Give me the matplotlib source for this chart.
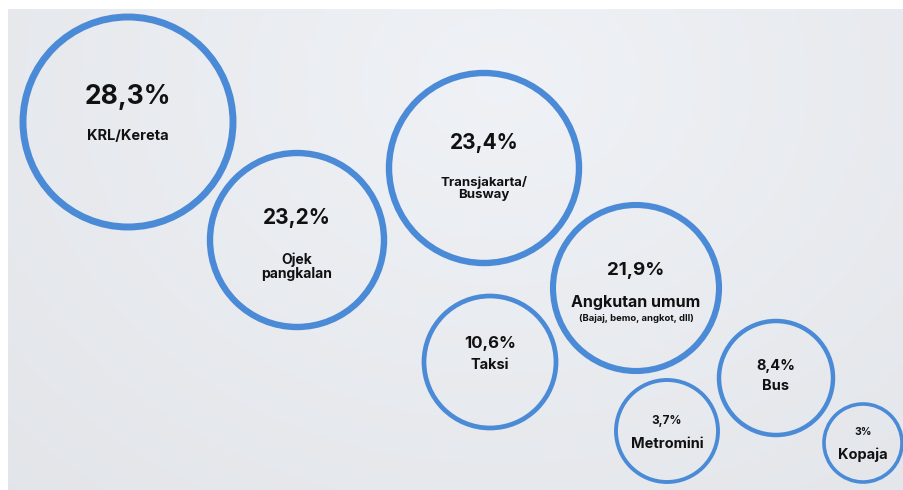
import matplotlib.pyplot as plt
import numpy as np
from matplotlib.patches import Circle

plt.rcParams['font.family'] = ['Inter', 'DejaVu Sans']

# Data
modes = ["KRL/Kereta", "Ojek\npangkalan", "Transjakarta/\nBusway", "Angkutan umum",
         "Taksi", "Bus", "Metromini", "Kopaja"]
shares = [28.3, 23.2, 23.4, 21.9, 10.6, 8.4, 3.7, 3.0]
notes = ["", "", "", "(Bajaj, bemo, angkot, dll)", "", "", "", ""]

# Layout (pixel coordinates of the bubbles)
cx = [128, 297, 484, 636, 490, 776, 667, 863]
cy = [122, 240, 168, 288, 362, 378, 431, 443]
rad = [105, 87, 95, 83, 66, 57, 51, 39]
lw = [5.0, 4.6, 4.6, 4.4, 3.4, 3.2, 2.8, 2.6]
pct_size = [19, 15, 15, 13.5, 12, 10.5, 8.5, 7.5]
pct_dy = [-25, -22, -25, -18, -19, -12, -10, -11]
lab_dy = [14, 27, 20, 14, 3, 8, 13, 12]
lab_size = [10.5, 10, 9.5, 11.5, 10.5, 10.5, 10.5, 10.5]

W, H = 904, 490
fig = plt.figure(figsize=(W / 100, H / 100), dpi=100)
fig.patch.set_facecolor('white')
ax = fig.add_axes([0, 0, 1, 1])
ax.set_xlim(0, W)
ax.set_ylim(H, 0)
ax.set_aspect('equal')
ax.axis('off')

# soft grey-blue background
gx, gy = np.meshgrid(np.linspace(0, 1, 300), np.linspace(0, 1, 160))
d = np.sqrt(((gx - 0.55) / 0.8) ** 2 + ((gy - 0.15) / 1.2) ** 2)
shade = 0.955 - 0.05 * np.clip(d, 0, 1)
bg = np.dstack([shade - 0.018, shade - 0.008, shade + 0.008])
ax.imshow(np.clip(bg, 0, 1), extent=[8, W, H, 9], zorder=0, interpolation='bilinear')

for i, name in enumerate(modes):
    ax.add_patch(Circle((cx[i], cy[i]), rad[i], fill=False, edgecolor='#4a8ad6',
                        linewidth=lw[i], zorder=2))
    pct = f"{shares[i]:.1f}".replace('.', ',').replace(',0', '') + "%"
    ax.text(cx[i], cy[i] + pct_dy[i], pct, ha='center', va='center',
            fontsize=pct_size[i], fontweight='bold', color='#111111', zorder=3)
    ax.text(cx[i], cy[i] + lab_dy[i], name, ha='center', va='center',
            fontsize=lab_size[i], fontweight='bold', color='#111111',
            linespacing=1.0, zorder=3)
    if notes[i]:
        ax.text(cx[i], cy[i] + lab_dy[i] + 16, notes[i], ha='center', va='center',
                fontsize=6.8, fontweight='bold', color='#111111', zorder=3)

fig.savefig('out.png', dpi=100)
